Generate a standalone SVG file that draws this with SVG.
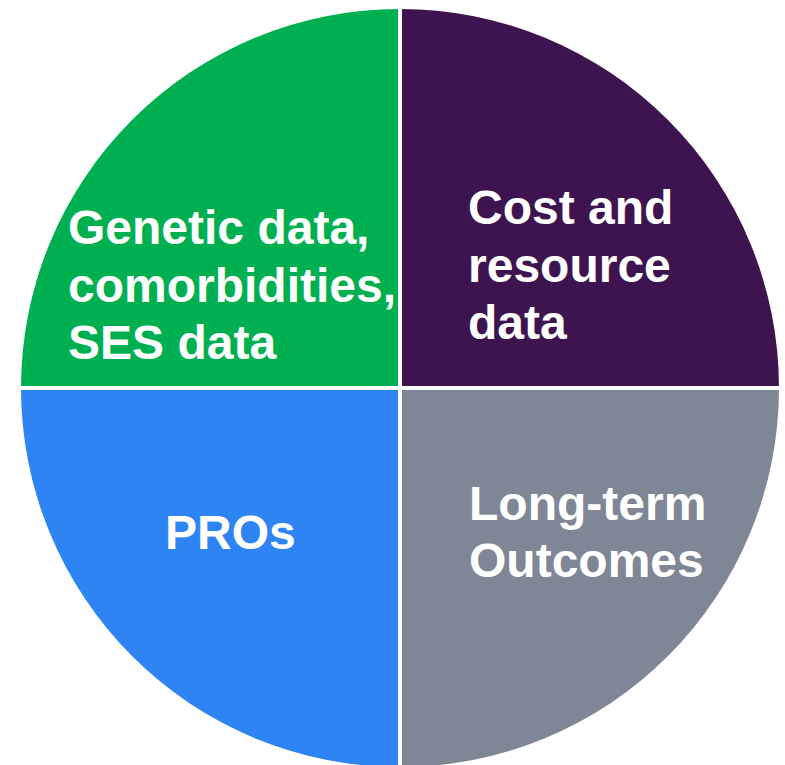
<svg xmlns="http://www.w3.org/2000/svg" width="785" height="765" viewBox="0 0 785 765">
  <style>
    .label { font-family: "Liberation Sans", Arial, sans-serif; font-weight: bold; font-size: 48px; fill: #ffffff; }
    .sep { stroke: #ffffff; stroke-width: 4; }
  </style>
  <rect width="785" height="765" fill="#ffffff"/>

  <!-- circle centre (400,388), radius 379, split into four quadrants -->
  <g id="genetic">
    <path d="M400 388 L21 388 A379 379 0 0 1 400 9 Z" fill="#00B050"/>
    <text class="label" x="68" y="244">Genetic data,</text>
    <text class="label" x="68" y="302">comorbidities,</text>
    <text class="label" x="68" y="359">SES data</text>
  </g>

  <g id="cost">
    <path d="M400 388 L400 9 A379 379 0 0 1 779 388 Z" fill="#3E1450"/>
    <text class="label" x="468" y="224">Cost and</text>
    <text class="label" x="468" y="282">resource</text>
    <text class="label" x="468" y="339">data</text>
  </g>

  <g id="pros">
    <path d="M400 388 L400 767 A379 379 0 0 1 21 388 Z" fill="#2F84F3"/>
    <text class="label" x="165" y="549">PROs</text>
  </g>

  <g id="outcomes">
    <path d="M400 388 L779 388 A379 379 0 0 1 400 767 Z" fill="#7F8696"/>
    <text class="label" x="469" y="520">Long-term</text>
    <text class="label" x="469" y="577">Outcomes</text>
  </g>

  <!-- white gaps between the quadrants -->
  <g id="separators">
    <line class="sep" x1="400" y1="0" x2="400" y2="765"/>
    <line class="sep" x1="0" y1="388" x2="785" y2="388"/>
  </g>
</svg>
